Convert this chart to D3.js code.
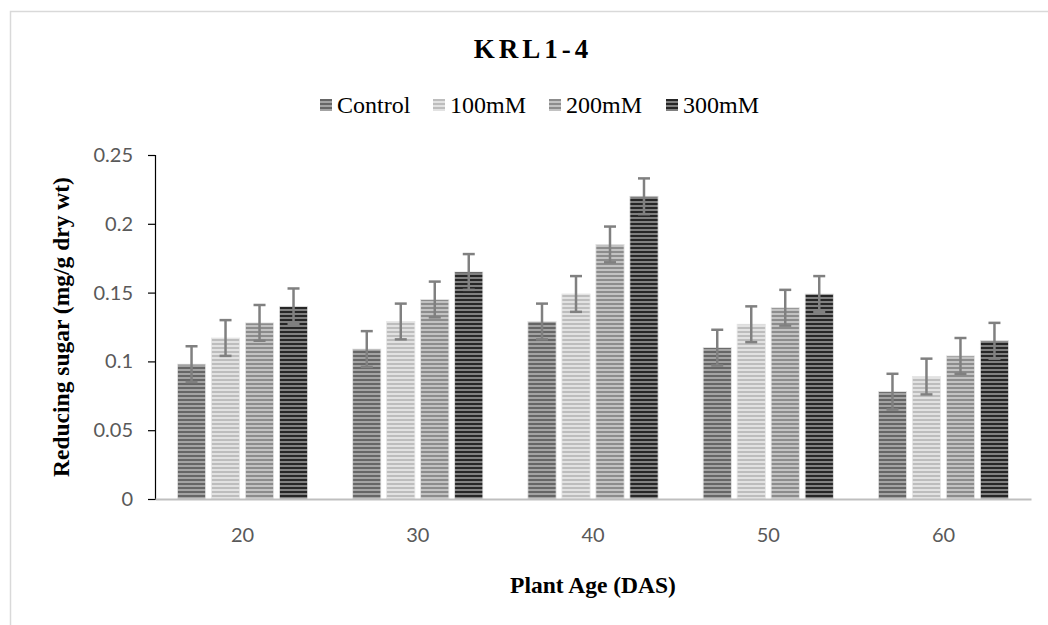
<!DOCTYPE html>
<html>
<head>
<meta charset="utf-8">
<script src="https://cdn.jsdelivr.net/npm/d3@7"></script>
<style>
  body { margin: 0; background: #fff; }
  .tick text { font-family: Lato, "Open Sans", sans-serif; font-size: 20px; fill: #595959; }
</style>
</head>
<body>
<svg id="chart" width="1048" height="625"></svg>
<script>
var CHART_MARGIN = { top: 155, right: 17, bottom: 126, left: 155 };

var ages = ["20", "30", "40", "50", "60"];
var treatments = ["Control", "100mM", "200mM", "300mM"];
var control = [0.098, 0.109, 0.129, 0.110, 0.078];
var mM100 = [0.117, 0.129, 0.149, 0.127, 0.089];
var mM200 = [0.128, 0.145, 0.185, 0.139, 0.104];
var mM300 = [0.140, 0.165, 0.220, 0.149, 0.115];
var errors = [0.013, 0.013, 0.013, 0.013];
var yTicks = [0, 0.05, 0.1, 0.15, 0.2, 0.25];

// stripe colours: [dark, light]
var stripes = [["#666666", "#a3a3a3"], ["#bdbdbd", "#e2e2e2"], ["#8c8c8c", "#c2c2c2"], ["#262626", "#808080"]];

function main() {
    var svg = d3.select("#chart");
    var width = +svg.attr("width") - CHART_MARGIN.left - CHART_MARGIN.right;
    var height = +svg.attr("height") - CHART_MARGIN.top - CHART_MARGIN.bottom;
    var series = [control, mM100, mM200, mM300];

    // outer frame (only top and left visible in the picture)
    svg.append("rect")
        .attr("x", 10.5).attr("y", 11.5)
        .attr("width", 1100).attr("height", 700)
        .attr("fill", "none").attr("stroke", "#d9d9d9").attr("stroke-width", 1.5);

    var defs = svg.append("defs");
    stripes.forEach(function(c, i) {
        var p = defs.append("pattern")
            .attr("id", "stripe" + i)
            .attr("patternUnits", "userSpaceOnUse")
            .attr("width", 8).attr("height", 4);
        p.append("rect").attr("width", 8).attr("height", 4).attr("fill", c[1]);
        p.append("rect").attr("width", 8).attr("height", 2).attr("fill", c[0]);
    });

    var x0 = d3.scaleBand().domain(ages).range([0, width]).paddingInner(0.257).paddingOuter(0.128);
    var x1 = d3.scaleBand().domain(treatments).range([0, x0.bandwidth()]).paddingInner(0.17);
    var y = d3.scaleLinear().domain([0, 0.25]).range([height, 0]);

    var g = svg.append("g")
        .attr("transform", "translate(" + CHART_MARGIN.left + "," + CHART_MARGIN.top + ")");

    // y axis
    var yAxis = g.append("g")
        .attr("class", "axis axis--y")
        .call(d3.axisLeft(y).tickValues(yTicks).tickSize(7).tickPadding(15)
              .tickFormat(function(d) { return d3.format("")(+d.toFixed(2)); }));
    yAxis.select(".domain").attr("stroke", "#000").attr("stroke-width", 1.2);
    yAxis.selectAll(".tick line").attr("stroke", "#000").attr("stroke-width", 1.2);

    // bars
    var rows = [];
    ages.forEach(function(a, i) {
        treatments.forEach(function(t, j) {
            rows.push({ age: a, t: t, idx: j, v: series[j][i], e: errors[j] });
        });
    });

    g.selectAll(".bar")
        .data(rows)
        .enter().append("rect")
        .attr("class", "bar")
        .attr("x", function(d) { return x0(d.age) + x1(d.t); })
        .attr("y", function(d) { return y(d.v); })
        .attr("width", x1.bandwidth())
        .attr("height", function(d) { return height - y(d.v); })
        .attr("fill", function(d) { return "url(#stripe" + d.idx + ")"; })
        .attr("stroke", "#e6e6e6")
        .attr("stroke-width", 0.8);

    // x axis
    var xAxis = g.append("g")
        .attr("class", "axis axis--x")
        .attr("transform", "translate(0," + height + ")")
        .call(d3.axisBottom(x0).tickSize(0).tickPadding(29).tickSizeOuter(0));
    xAxis.select(".domain").attr("stroke", "#bfbfbf").attr("stroke-width", 2);

    // error bars
    var eb = g.selectAll(".err")
        .data(rows)
        .enter().append("g")
        .attr("class", "err")
        .attr("stroke", "#808080")
        .attr("stroke-width", 2.5);
    eb.append("line")
        .attr("x1", function(d) { return x0(d.age) + x1(d.t) + x1.bandwidth() / 2; })
        .attr("x2", function(d) { return x0(d.age) + x1(d.t) + x1.bandwidth() / 2; })
        .attr("y1", function(d) { return y(d.v + d.e); })
        .attr("y2", function(d) { return y(d.v - d.e); });
    [1, -1].forEach(function(s) {
        eb.append("line")
            .attr("x1", function(d) { return x0(d.age) + x1(d.t) + x1.bandwidth() / 2 - 6; })
            .attr("x2", function(d) { return x0(d.age) + x1(d.t) + x1.bandwidth() / 2 + 6; })
            .attr("y1", function(d) { return y(d.v + s * d.e); })
            .attr("y2", function(d) { return y(d.v + s * d.e); });
    });

    // title
    svg.append("text")
        .attr("x", 533).attr("y", 58)
        .attr("text-anchor", "middle")
        .style("font", "bold 27px 'Liberation Serif', serif")
        .style("letter-spacing", "4px")
        .text("KRL1-4");

    // axis titles
    svg.append("text")
        .attr("transform", "translate(69," + (CHART_MARGIN.top + height / 2) + ") rotate(-90)")
        .attr("text-anchor", "middle")
        .style("font", "bold 23.5px 'Liberation Serif', serif")
        .text("Reducing sugar (mg/g dry wt)");
    svg.append("text")
        .attr("x", CHART_MARGIN.left + width / 2).attr("y", 593)
        .attr("text-anchor", "middle")
        .style("font", "bold 23.5px 'Liberation Serif', serif")
        .text("Plant Age (DAS)");

    addLegend(svg);
}

function addLegend(svg) {
    var legendX = [320, 433, 549, 666];
    var legend = svg.selectAll(".legend")
        .data(treatments)
        .enter().append("g")
        .attr("class", "legend")
        .attr("transform", function(d, i) { return "translate(" + legendX[i] + ",99)"; });
    legend.append("rect")
        .attr("width", 12).attr("height", 12)
        .attr("fill", function(d, i) { return "url(#stripe" + i + ")"; });
    legend.append("text")
        .attr("x", 17).attr("y", 14)
        .style("font", "24px 'Liberation Serif', serif")
        .text(function(d) { return d; });
}

main();
</script>
</body>
</html>
